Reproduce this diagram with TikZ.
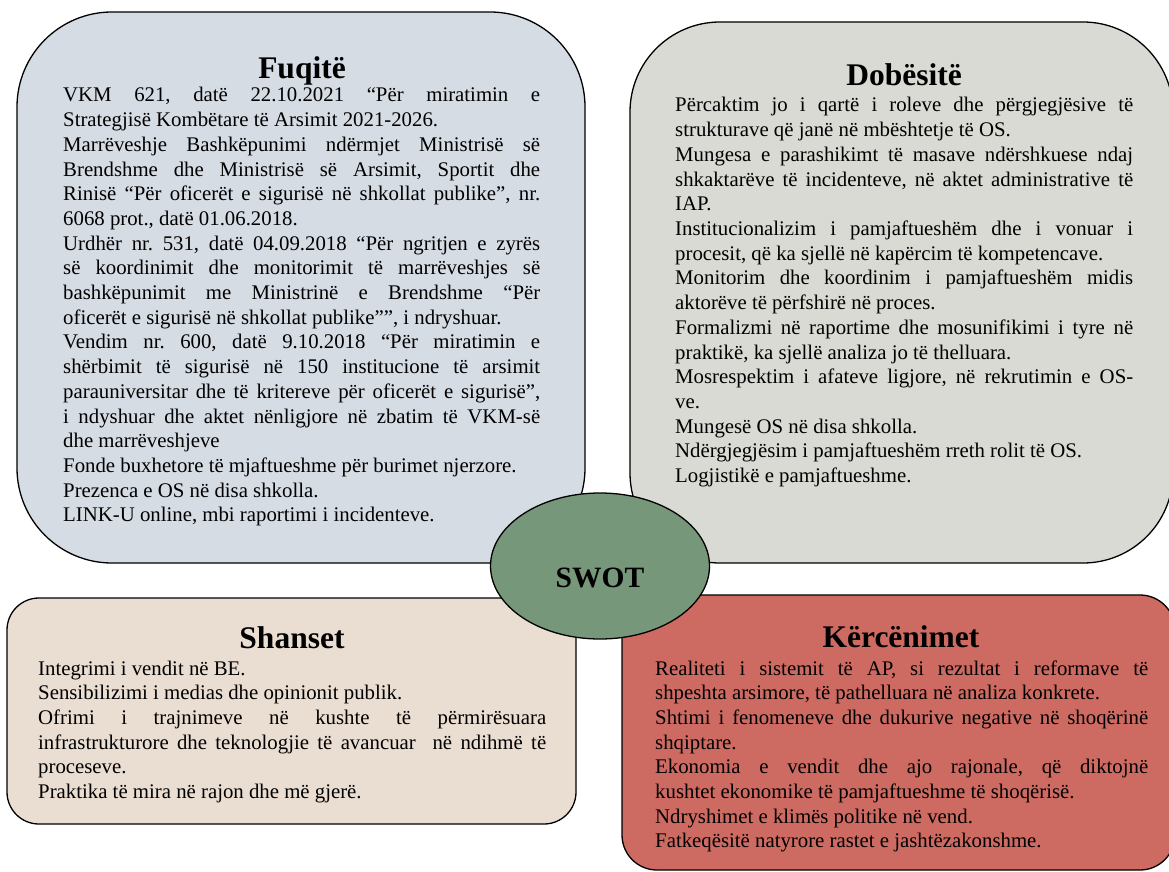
\documentclass[tikz,border=0pt]{standalone}
\usepackage{fontspec}
\setmainfont{Liberation Serif}
\usetikzlibrary{shapes.geometric}
\definecolor{tlfill}{HTML}{D6DCE4}
\definecolor{trfill}{HTML}{D9DAD3}
\definecolor{blfill}{HTML}{EADDD1}
\definecolor{brfill}{HTML}{CD6A62}
\definecolor{swotfill}{HTML}{76977A}
\frenchspacing
\newcommand\jline[1]{\hbox to\hsize{#1}}
\newcommand\eline[1]{\hbox{#1}}
\begin{document}
\begin{tikzpicture}[x=1pt,y=-1pt,
  panel/.style={draw=black,line width=1.3pt},
  bodytext/.style={anchor=base west,inner sep=0pt,font=\fontsize{20.8}{24.7}\selectfont\frenchspacing},
  titletext/.style={anchor=base,inner sep=0pt,font=\fontsize{31.5}{36}\selectfont\bfseries}]
\useasboundingbox (0,0) rectangle (1169,872);
% panels
\draw[panel,fill=tlfill,rounded corners=95pt] (17,12) rectangle (585,563);
\draw[panel,fill=trfill,rounded corners=90pt] (630,22) rectangle (1173,563);
\draw[panel,fill=blfill,rounded corners=32pt] (7,598) rectangle (576,824);
\draw[panel,fill=brfill,rounded corners=35pt] (622,595) rectangle (1175,870);
% Fuqite
\node[titletext] (ftitle) at (302,79) {Fuqitë};
\node[bodytext] (fbody) at (63,102) {\vtop{\hsize=477pt
\jline{VKM 621, datë 22.10.2021 “Për miratimin e}
\eline{Strategjisë Kombëtare të Arsimit 2021-2026.}
\jline{Marrëveshje Bashkëpunimi ndërmjet Ministrisë së}
\jline{Brendshme dhe Ministrisë së Arsimit, Sportit dhe}
\jline{Rinisë “Për oficerët e sigurisë në shkollat publike”, nr.}
\eline{6068 prot., datë 01.06.2018.}
\jline{Urdhër nr. 531, datë 04.09.2018 “Për ngritjen e zyrës}
\jline{së koordinimit dhe monitorimit të marrëveshjes së}
\jline{bashkëpunimit me Ministrinë e Brendshme “Për}
\eline{oficerët e sigurisë në shkollat publike””, i ndryshuar.}
\jline{Vendim nr. 600, datë 9.10.2018 “Për miratimin e}
\jline{shërbimit të sigurisë në 150 institucione të arsimit}
\jline{parauniversitar dhe të kritereve për oficerët e sigurisë”,}
\jline{i ndyshuar dhe aktet nënligjore në zbatim të VKM-së}
\eline{dhe marrëveshjeve}
\eline{Fonde buxhetore të mjaftueshme për burimet njerzore.}
\eline{Prezenca e OS në disa shkolla.}
\eline{LINK-U online, mbi raportimi i incidenteve.}}};
% Dobesite
\node[titletext] (dtitle) at (904,86) {Dobësitë};
\node[bodytext] (dbody) at (675,112) {\vtop{\hsize=458pt
\jline{Përcaktim jo i qartë i roleve dhe përgjegjësive të}
\eline{strukturave që janë në mbështetje të OS.}
\jline{Mungesa e parashikimt të masave ndërshkuese ndaj}
\jline{shkaktarëve të incidenteve, në aktet administrative të}
\eline{IAP.}
\jline{Institucionalizim i pamjaftueshëm dhe i vonuar i}
\eline{procesit, që ka sjellë në kapërcim të kompetencave.}
\jline{Monitorim dhe koordinim i pamjaftueshëm midis}
\eline{aktorëve të përfshirë në proces.}
\jline{Formalizmi në raportime dhe mosunifikimi i tyre në}
\eline{praktikë, ka sjellë analiza jo të thelluara.}
\jline{Mosrespektim i afateve ligjore, në rekrutimin e OS-}
\eline{ve.}
\eline{Mungesë OS në disa shkolla.}
\eline{Ndërgjegjësim i pamjaftueshëm rreth rolit të OS.}
\eline{Logjistikë e pamjaftueshme.}}};
% Shanset
\node[titletext] (stitle) at (292,648) {Shanset};
\node[bodytext] (sbody) at (38,675) {\vtop{\hsize=508pt
\eline{Integrimi i vendit në BE.}
\eline{Sensibilizimi i medias dhe opinionit publik.}
\jline{Ofrimi i trajnimeve në kushte të përmirësuara}
\jline{infrastrukturore dhe teknologjie të avancuar\ \ në ndihmë të}
\eline{proceseve.}
\eline{Praktika të mira në rajon dhe më gjerë.}}};
% Kercenimet
\node[titletext] (ktitle) at (901,647) {Kërcënimet};
\node[bodytext] (kbody) at (655,675) {\vtop{\hsize=493pt
\jline{Realiteti i sistemit të AP, si rezultat i reformave të}
\eline{shpeshta arsimore, të pathelluara në analiza konkrete.}
\jline{Shtimi i fenomeneve dhe dukurive negative në shoqërinë}
\eline{shqiptare.}
\jline{Ekonomia e vendit dhe ajo rajonale, që diktojnë}
\eline{kushtet ekonomike të pamjaftueshme të shoqërisë.}
\eline{Ndryshimet e klimës politike në vend.}
\eline{Fatkeqësitë natyrore rastet e jashtëzakonshme.}}};
% SWOT
\node[ellipse,draw=black,line width=1.3pt,fill=swotfill,minimum width=219pt,minimum height=146pt,inner sep=0pt] (swot) at (600,566) {};
\node[titletext,font=\fontsize{29.5}{34}\selectfont\bfseries] (swotlabel) at (600,587) {SWOT};
\end{tikzpicture}
\end{document}
